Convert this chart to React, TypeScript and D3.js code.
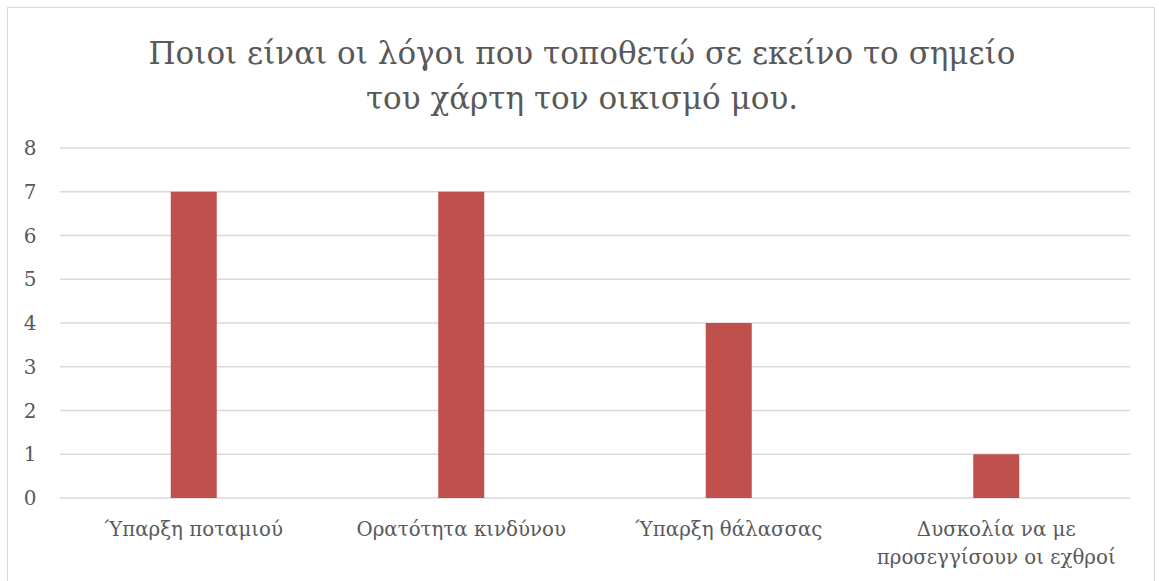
import React from "react";
import * as d3 from "d3";

const categories: string[][] = [
  ["Ύπαρξη ποταμιού"],
  ["Ορατότητα κινδύνου"],
  ["Ύπαρξη θάλασσας"],
  ["Δυσκολία να με", "προσεγγίσουν οι εχθροί"],
];
const values: number[] = [7, 7, 4, 1];
const yTicks: number[] = [0, 1, 2, 3, 4, 5, 6, 7, 8];
const titleLines: string[] = [
  "Ποιοι είναι οι λόγοι που τοποθετώ σε εκείνο το σημείο",
  "του χάρτη τον οικισμό μου.",
];

const W = 1159;
const H = 581;
const FONT = "'DejaVu Serif', serif";
const TEXT = "#595959";

export default function App() {
  const left = 60;
  const right = 1130;
  const top = 148;
  const bottom = 498;
  const x = d3
    .scaleBand<number>()
    .domain(categories.map((_, i) => i))
    .range([left, right])
    .paddingInner(0)
    .paddingOuter(0);
  const y = d3.scaleLinear().domain([0, 8]).range([bottom, top]);
  const bw = x.bandwidth() * 0.172;

  return (
    <svg
      width={W}
      height={H}
      style={{ position: "absolute", left: 0, top: 0, display: "block" }}
    >
      <rect x={0} y={0} width={W} height={H} fill="#ffffff" />
      <rect
        x={7.5}
        y={7.5}
        width={1147}
        height={H + 20}
        fill="#ffffff"
        stroke="#d9d9d9"
        strokeWidth={1}
      />
      {titleLines.map((t, i) => (
        <text
          key={i}
          x={582}
          y={64 + i * 45}
          textAnchor="middle"
          fontFamily={FONT}
          fontSize={31}
          fill={TEXT}
        >
          {t}
        </text>
      ))}
      {yTicks.map((t) => (
        <g key={t}>
          <line
            x1={left}
            x2={right}
            y1={y(t)}
            y2={y(t)}
            stroke="#d9d9d9"
            strokeWidth={1.3}
          />
          <text
            x={30}
            y={y(t) + 7}
            textAnchor="middle"
            fontFamily={FONT}
            fontSize={20}
            fill={TEXT}
          >
            {t}
          </text>
        </g>
      ))}
      {values.map((v, i) => (
        <rect
          key={i}
          x={(x(i) as number) + x.bandwidth() / 2 - bw / 2}
          y={y(v)}
          width={bw}
          height={y(0) - y(v)}
          fill="#c0504d"
        />
      ))}
      {categories.map((lines, i) =>
        lines.map((l, j) => (
          <text
            key={i + "-" + j}
            x={(x(i) as number) + x.bandwidth() / 2}
            y={536 + j * 28}
            textAnchor="middle"
            fontFamily={FONT}
            fontSize={19.8}
            fill={TEXT}
          >
            {l}
          </text>
        ))
      )}
    </svg>
  );
}
